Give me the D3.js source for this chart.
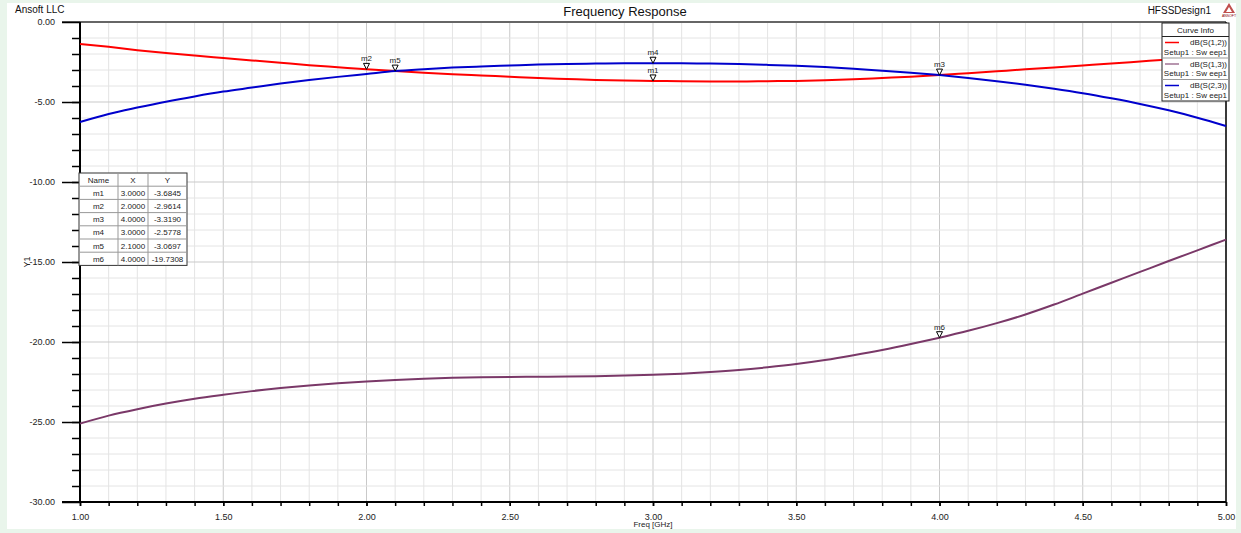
<!DOCTYPE html>
<html>
<head>
<meta charset="utf-8">
<script src="https://cdn.jsdelivr.net/npm/d3@7"></script>
<style>
  body { margin: 0; background: #e9f5eb; font-family: "Liberation Sans", Arial, sans-serif; }
  svg { display: block; }
</style>
</head>
<body>
<div id="chart"></div>
<script>
// Frequency response data (dB), one value every 0.1 GHz from 1.0 to 5.0
var freq = d3.range(0, 41).map(i => +(1 + i * 0.1).toFixed(1));

var s12 = [-1.37, -1.55, -1.76, -1.94, -2.1, -2.25, -2.4, -2.55, -2.7, -2.83,
  -2.96, -3.07, -3.17, -3.26, -3.34, -3.42, -3.5, -3.56, -3.62, -3.66,
  -3.68, -3.71, -3.72, -3.72, -3.7, -3.68, -3.64, -3.58, -3.5, -3.42,
  -3.32, -3.2, -3.08, -2.96, -2.84, -2.72, -2.6, -2.47, -2.34, -2.2, -2.05];

var s13 = [-25.1, -24.6, -24.2, -23.85, -23.55, -23.3, -23.07, -22.88, -22.72, -22.58,
  -22.47, -22.38, -22.3, -22.24, -22.2, -22.18, -22.17, -22.16, -22.14, -22.1,
  -22.05, -21.98, -21.88, -21.75, -21.58, -21.38, -21.13, -20.83, -20.5, -20.13,
  -19.73, -19.3, -18.82, -18.28, -17.66, -16.98, -16.3, -15.62, -14.94, -14.27, -13.6];

var s23 = [-6.25, -5.75, -5.35, -4.98, -4.65, -4.35, -4.1, -3.85, -3.63, -3.43,
  -3.25, -3.07, -2.95, -2.85, -2.78, -2.72, -2.66, -2.62, -2.6, -2.58,
  -2.58, -2.58, -2.6, -2.63, -2.68, -2.74, -2.82, -2.92, -3.04, -3.17,
  -3.32, -3.5, -3.7, -3.92, -4.17, -4.45, -4.77, -5.12, -5.52, -5.98, -6.5];

var curveNames = ["dB(S(1,2))", "dB(S(1,3))", "dB(S(2,3))"];
var curveSub = "Setup1 : Sw eep1";
var curveColors = ["#ff0000", "#7a3868", "#0000cc"];

// markers
var markerNames = ["m1", "m2", "m3", "m4", "m5", "m6"];
var markerX = [3.0, 2.0, 4.0, 3.0, 2.1, 4.0];
var markerY = [-3.6845, -2.9614, -3.3190, -2.5778, -3.0697, -19.7308];
var markerYText = ["-3.6845", "-2.9614", "-3.3190", "-2.5778", "-3.0697", "-19.7308"];

var yMajor = [0, -5, -10, -15, -20, -25, -30];
var xMajor = [1, 1.5, 2, 2.5, 3, 3.5, 4, 4.5, 5];

var W = 1241, H = 533;
var svg = d3.select("#chart").append("svg")
    .attr("width", W).attr("height", H);

// white panel
svg.append("rect").attr("x", 7).attr("y", 3).attr("width", 1229).attr("height", 526)
    .attr("fill", "#fff");

var x = d3.scaleLinear().domain([1, 5]).range([80, 1226]);
var y = d3.scaleLinear().domain([-30, 0]).range([502, 22]);

// grid
var grid = svg.append("g").attr("class", "grid");
grid.selectAll(".gx").data(freq).enter().append("line")
    .attr("x1", d => x(d)).attr("x2", d => x(d))
    .attr("y1", y(0)).attr("y2", y(-30))
    .attr("stroke", d => xMajor.some(m => Math.abs(m - d) < 1e-6) ? "#c9c9c9" : "#e4e4e4")
    .attr("stroke-width", 1);
grid.selectAll(".gy").data(d3.range(-30, 1, 1)).enter().append("line")
    .attr("x1", x(1)).attr("x2", x(5))
    .attr("y1", d => y(d)).attr("y2", d => y(d))
    .attr("stroke", d => d % 5 === 0 ? "#c9c9c9" : "#e4e4e4")
    .attr("stroke-width", 1);

// top and right frame
svg.append("line").attr("x1", 62).attr("x2", x(5)).attr("y1", y(0)).attr("y2", y(0))
    .attr("stroke", "#666").attr("stroke-width", 2);
svg.append("line").attr("x1", x(5)).attr("x2", x(5)).attr("y1", y(0)).attr("y2", y(-30))
    .attr("stroke", "#000").attr("stroke-width", 1.5);

// y axis
var yAxisMinor = svg.append("g").attr("transform", "translate(80,0)")
    .call(d3.axisLeft(y).tickValues(d3.range(-29, 0, 1)).tickSize(8).tickFormat(""));
var yAxis = svg.append("g").attr("transform", "translate(80,0)")
    .call(d3.axisLeft(y).tickValues(yMajor).tickSize(18).tickPadding(7).tickFormat(d => d.toFixed(2)));

// x axis
var xAxisMinor = svg.append("g").attr("transform", "translate(0,502)")
    .call(d3.axisBottom(x).tickValues(freq).tickSize(4).tickFormat(""));
var xAxis = svg.append("g").attr("transform", "translate(0,502)")
    .call(d3.axisBottom(x).tickValues(xMajor).tickSize(4).tickPadding(8).tickFormat(d => d.toFixed(2)));

[yAxisMinor, yAxis, xAxisMinor, xAxis].forEach(function(g) {
  g.select(".domain").remove();
  g.selectAll("line").attr("stroke", "#000").attr("stroke-width", 1.5);
  g.selectAll("text").attr("fill", "#222").style("font-size", "9px")
    .style("font-family", "'Liberation Sans', Arial, sans-serif");
});
svg.append("line").attr("x1", 80).attr("x2", 80).attr("y1", y(0)).attr("y2", y(-30))
    .attr("stroke", "#000").attr("stroke-width", 2);
svg.append("line").attr("x1", 62).attr("x2", x(5)).attr("y1", y(-30)).attr("y2", y(-30))
    .attr("stroke", "#000").attr("stroke-width", 2);

// curves
var line = d3.line().x(d => x(d[0])).y(d => y(d[1])).curve(d3.curveMonotoneX);
[s12, s13, s23].forEach(function(s, i) {
  svg.append("path")
      .datum(freq.map((f, j) => [f, s[j]]))
      .attr("d", line)
      .attr("fill", "none")
      .attr("stroke", curveColors[i])
      .attr("stroke-width", 2);
});

// markers
var mk = svg.append("g").selectAll("g").data(markerNames).enter().append("g")
    .attr("transform", (d, i) => "translate(" + x(markerX[i]) + "," + y(markerY[i]) + ")");
mk.append("path").attr("d", "M-3,-6 L3,-6 L0,0 Z")
    .attr("fill", "#fff").attr("stroke", "#000").attr("stroke-width", 1);
mk.append("text").text(d => d).attr("x", 0).attr("y", -8)
    .attr("text-anchor", "middle").style("font-size", "8px").attr("fill", "#222");

// marker table
var tbl = svg.append("g").attr("transform", "translate(79,173)");
var colX = [0, 39, 69, 108];
var rowH = 13.2;
var nRows = markerNames.length + 1;
tbl.append("rect").attr("width", colX[3]).attr("height", rowH * nRows)
    .attr("fill", "#fff").attr("stroke", "#333").attr("stroke-width", 1);
d3.range(1, nRows).forEach(function(r) {
  tbl.append("line").attr("x1", 0).attr("x2", colX[3]).attr("y1", r * rowH).attr("y2", r * rowH)
      .attr("stroke", "#999");
});
[1, 2].forEach(function(c) {
  tbl.append("line").attr("x1", colX[c]).attr("x2", colX[c]).attr("y1", 0).attr("y2", rowH * nRows)
      .attr("stroke", "#999");
});
var header = ["Name", "X", "Y"];
var rows = [header].concat(markerNames.map((n, i) => [n, markerX[i].toFixed(4), markerYText[i]]));
rows.forEach(function(row, r) {
  row.forEach(function(cell, c) {
    tbl.append("text").text(cell)
        .attr("x", (colX[c] + colX[c + 1]) / 2).attr("y", r * rowH + rowH / 2 + 3)
        .attr("text-anchor", "middle").style("font-size", "8px").attr("fill", "#222");
  });
});

// legend
var lg = svg.append("g").attr("transform", "translate(1162,23)");
lg.append("rect").attr("width", 67).attr("height", 78).attr("fill", "#fff")
    .attr("stroke", "#222").attr("stroke-width", 1);
lg.append("text").text("Curve Info").attr("x", 33.5).attr("y", 10)
    .attr("text-anchor", "middle").style("font-size", "8px").attr("fill", "#222");
lg.append("line").attr("x1", 0).attr("x2", 67).attr("y1", 13.5).attr("y2", 13.5).attr("stroke", "#222");
curveNames.forEach(function(n, i) {
  var yy = 13.5 + i * 21.5;
  if (i > 0) lg.append("line").attr("x1", 0).attr("x2", 67).attr("y1", yy).attr("y2", yy).attr("stroke", "#999");
  lg.append("line").attr("x1", 3).attr("x2", 17).attr("y1", yy + 6).attr("y2", yy + 6)
      .attr("stroke", curveColors[i]).attr("stroke-width", 1.5).attr("opacity", i === 1 ? 0.7 : 1);
  lg.append("text").text(n).attr("x", 65).attr("y", yy + 8.5)
      .attr("text-anchor", "end").style("font-size", "8px").attr("fill", "#222");
  lg.append("text").text(curveSub).attr("x", 65).attr("y", yy + 18)
      .attr("text-anchor", "end").style("font-size", "8px").attr("fill", "#222");
});

// titles
svg.append("text").text("Frequency Response").attr("x", 625).attr("y", 16)
    .attr("text-anchor", "middle").style("font-size", "13px").attr("fill", "#111");
svg.append("text").text("Ansoft LLC").attr("x", 15).attr("y", 13)
    .style("font-size", "10px").attr("fill", "#111");
svg.append("text").text("HFSSDesign1").attr("x", 1211).attr("y", 14)
    .attr("text-anchor", "end").style("font-size", "10px").attr("fill", "#111");
// small logo
var logo = svg.append("g").attr("transform", "translate(1229,9)");
logo.append("path").attr("d", "M0,-6 L6,4 L-6,4 Z").attr("fill", "#c0504d");
logo.append("path").attr("d", "M0,-2 L3,3 L-3,3 Z").attr("fill", "#fff");
logo.append("text").text("ANSOFT").attr("x", 0).attr("y", 7.5).attr("text-anchor", "middle")
    .style("font-size", "3.5px").attr("fill", "#800");

svg.append("text").text("Freq [GHz]").attr("x", x(3)).attr("y", 527)
    .attr("text-anchor", "middle").style("font-size", "8px").attr("fill", "#222");
svg.append("text").text("Y1").attr("transform", "translate(30,262) rotate(-90)")
    .attr("text-anchor", "middle").style("font-size", "9px").attr("fill", "#222");
</script>
</body>
</html>
